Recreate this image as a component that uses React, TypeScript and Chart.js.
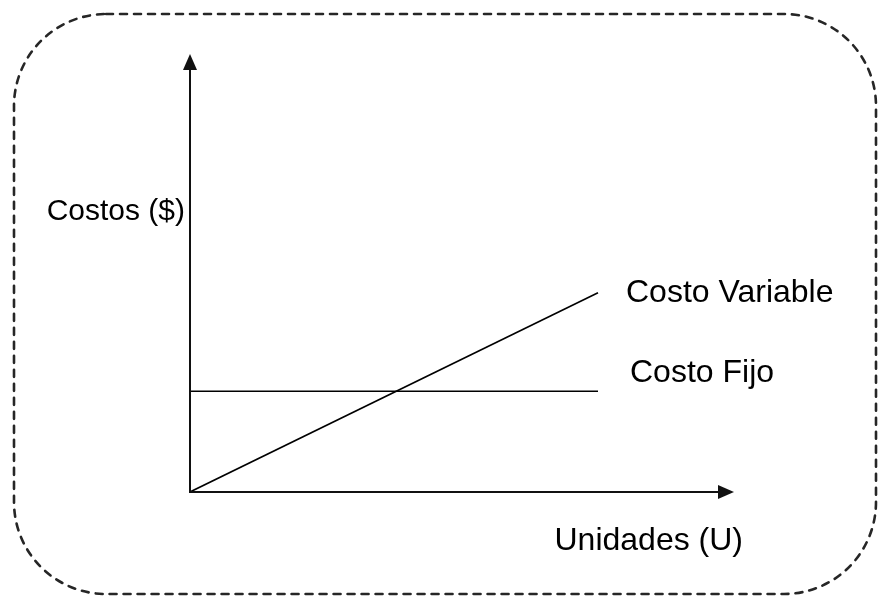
import React, { useEffect, useRef } from "react";
import { Chart, registerables } from "chart.js";

Chart.register(...registerables);

// ---- Data ----
const units: number[] = [0, 75];
const fixedCost: number[] = [23, 23];
const variableCost: number[] = [0, 45.5];
const xMax = 100;
const yMax = 100;
const yAxisLabel = "Costos ($)";
const xAxisLabel = "Unidades (U)";
const fixedLabel = "Costo Fijo";
const variableLabel = "Costo Variable";
const yLabelValue = 62;

const FONT = "'Liberation Sans', Arial, sans-serif";

const decorPlugin = {
  id: "decor",
  beforeDraw(chart: any) {
    const ctx = chart.ctx;
    ctx.save();
    ctx.fillStyle = "#ffffff";
    ctx.fillRect(0, 0, chart.width, chart.height);
    ctx.strokeStyle = "#262626";
    ctx.lineWidth = 2.6;
    ctx.lineCap = "round";
    ctx.setLineDash([7, 7]);
    ctx.beginPath();
    (ctx as any).roundRect(14, 14, 862, 580, 92);
    ctx.stroke();
    ctx.restore();
  },
  afterDatasetsDraw(chart: any) {
    const ctx = chart.ctx;
    const xs = chart.scales.x;
    const ys = chart.scales.y;
    const x0 = xs.getPixelForValue(0);
    const y0 = ys.getPixelForValue(0);
    const xEnd = xs.getPixelForValue(xMax);
    const yTop = ys.getPixelForValue(yMax);
    ctx.save();
    ctx.strokeStyle = "#111";
    ctx.fillStyle = "#111";
    ctx.lineWidth = 2;
    ctx.setLineDash([]);
    // y axis
    ctx.beginPath();
    ctx.moveTo(x0, y0 + 1);
    ctx.lineTo(x0, yTop + 12);
    ctx.stroke();
    ctx.beginPath();
    ctx.moveTo(x0, yTop);
    ctx.lineTo(x0 - 7, yTop + 16);
    ctx.lineTo(x0 + 7, yTop + 16);
    ctx.closePath();
    ctx.fill();
    // x axis
    ctx.beginPath();
    ctx.moveTo(x0 - 1, y0);
    ctx.lineTo(xEnd - 12, y0);
    ctx.stroke();
    ctx.beginPath();
    ctx.moveTo(xEnd, y0);
    ctx.lineTo(xEnd - 16, y0 - 7);
    ctx.lineTo(xEnd - 16, y0 + 7);
    ctx.closePath();
    ctx.fill();

    // labels
    ctx.fillStyle = "#000";
    ctx.textBaseline = "alphabetic";
    ctx.font = `30px ${FONT}`;
    ctx.textAlign = "right";
    ctx.fillText(yAxisLabel, x0 - 5, ys.getPixelForValue(yLabelValue));

    ctx.font = `32px ${FONT}`;
    ctx.textAlign = "right";
    ctx.fillText(xAxisLabel, xEnd + 9, y0 + 58);

    ctx.textAlign = "left";
    const vEndX = xs.getPixelForValue(units[units.length - 1]);
    const vEndY = ys.getPixelForValue(variableCost[variableCost.length - 1]);
    ctx.fillText(variableLabel, vEndX + 28, vEndY + 9);
    const fEndY = ys.getPixelForValue(fixedCost[fixedCost.length - 1]);
    ctx.fillText(fixedLabel, vEndX + 32, fEndY - 9);
    ctx.restore();
  },
};

export default function App() {
  const canvasRef = useRef<HTMLCanvasElement | null>(null);

  useEffect(() => {
    if (!canvasRef.current) return;
    const chart = new Chart(canvasRef.current, {
      type: "line",
      data: {
        datasets: [
          {
            label: fixedLabel,
            data: units.map((u, i) => ({ x: u, y: fixedCost[i] })),
            borderColor: "#000",
            borderWidth: 1.6,
            pointRadius: 0,
            fill: false,
            tension: 0,
          },
          {
            label: variableLabel,
            data: units.map((u, i) => ({ x: u, y: variableCost[i] })),
            borderColor: "#000",
            borderWidth: 1.6,
            pointRadius: 0,
            fill: false,
            tension: 0,
          },
        ],
      },
      options: {
        animation: false,
        responsive: false,
        devicePixelRatio: 1,
        layout: { padding: { left: 190, right: 144, top: 54, bottom: 104 } },
        plugins: {
          legend: { display: false },
          tooltip: { enabled: false },
        },
        scales: {
          x: { type: "linear", min: 0, max: xMax, display: false },
          y: { type: "linear", min: 0, max: yMax, display: false },
        },
      },
      plugins: [decorPlugin],
    });
    return () => chart.destroy();
  }, []);

  return (
    <div style={{ position: "absolute", left: 0, top: 0, width: 878, height: 596, background: "#fff" }}>
      <canvas ref={canvasRef} width={878} height={596} />
    </div>
  );
}
